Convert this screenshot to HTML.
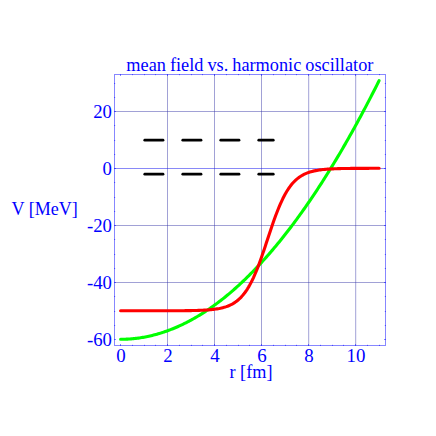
<!DOCTYPE html>
<html><head><meta charset="utf-8"><title>mean field vs. harmonic oscillator</title>
<style>html,body{margin:0;padding:0;background:#fff;}svg{display:block;}text{font-family:"Liberation Serif",serif;}</style></head><body>
<svg width="436" height="436" viewBox="0 0 436 436">
<rect x="0" y="0" width="436" height="436" fill="#ffffff"/>
<g stroke="#3838a8" stroke-opacity="0.47" stroke-width="1" fill="none">
<line x1="167.50" y1="74.5" x2="167.50" y2="345.5"/>
<line x1="214.50" y1="74.5" x2="214.50" y2="345.5"/>
<line x1="261.50" y1="74.5" x2="261.50" y2="345.5"/>
<line x1="308.70" y1="74.5" x2="308.70" y2="345.5"/>
<line x1="355.70" y1="74.5" x2="355.70" y2="345.5"/>
<line x1="114.5" y1="111.50" x2="385.5" y2="111.50"/>
<line x1="114.5" y1="225.50" x2="385.5" y2="225.50"/>
<line x1="114.5" y1="282.50" x2="385.5" y2="282.50"/>
</g>
<line x1="114.5" y1="168.5" x2="385.5" y2="168.5" stroke="#1414f0" stroke-opacity="0.5" stroke-width="1"/>
<rect x="114.5" y="74.5" width="271.0" height="271.0" fill="none" stroke="#0000ff" stroke-opacity="0.47" stroke-width="1"/>
<g stroke="#0000ff" stroke-opacity="0.47" stroke-width="1">
<line x1="120.5" y1="74.0" x2="120.5" y2="76.0"/>
<line x1="120.5" y1="346.0" x2="120.5" y2="344.0"/>
<line x1="132.5" y1="74.0" x2="132.5" y2="75.2"/>
<line x1="132.5" y1="346.0" x2="132.5" y2="344.8"/>
<line x1="144.5" y1="74.0" x2="144.5" y2="75.2"/>
<line x1="144.5" y1="346.0" x2="144.5" y2="344.8"/>
<line x1="155.5" y1="74.0" x2="155.5" y2="75.2"/>
<line x1="155.5" y1="346.0" x2="155.5" y2="344.8"/>
<line x1="167.5" y1="74.0" x2="167.5" y2="76.0"/>
<line x1="167.5" y1="346.0" x2="167.5" y2="344.0"/>
<line x1="179.5" y1="74.0" x2="179.5" y2="75.2"/>
<line x1="179.5" y1="346.0" x2="179.5" y2="344.8"/>
<line x1="191.5" y1="74.0" x2="191.5" y2="75.2"/>
<line x1="191.5" y1="346.0" x2="191.5" y2="344.8"/>
<line x1="202.5" y1="74.0" x2="202.5" y2="75.2"/>
<line x1="202.5" y1="346.0" x2="202.5" y2="344.8"/>
<line x1="214.5" y1="74.0" x2="214.5" y2="76.0"/>
<line x1="214.5" y1="346.0" x2="214.5" y2="344.0"/>
<line x1="226.5" y1="74.0" x2="226.5" y2="75.2"/>
<line x1="226.5" y1="346.0" x2="226.5" y2="344.8"/>
<line x1="238.5" y1="74.0" x2="238.5" y2="75.2"/>
<line x1="238.5" y1="346.0" x2="238.5" y2="344.8"/>
<line x1="249.5" y1="74.0" x2="249.5" y2="75.2"/>
<line x1="249.5" y1="346.0" x2="249.5" y2="344.8"/>
<line x1="261.5" y1="74.0" x2="261.5" y2="76.0"/>
<line x1="261.5" y1="346.0" x2="261.5" y2="344.0"/>
<line x1="273.5" y1="74.0" x2="273.5" y2="75.2"/>
<line x1="273.5" y1="346.0" x2="273.5" y2="344.8"/>
<line x1="285.5" y1="74.0" x2="285.5" y2="75.2"/>
<line x1="285.5" y1="346.0" x2="285.5" y2="344.8"/>
<line x1="296.5" y1="74.0" x2="296.5" y2="75.2"/>
<line x1="296.5" y1="346.0" x2="296.5" y2="344.8"/>
<line x1="308.5" y1="74.0" x2="308.5" y2="76.0"/>
<line x1="308.5" y1="346.0" x2="308.5" y2="344.0"/>
<line x1="320.5" y1="74.0" x2="320.5" y2="75.2"/>
<line x1="320.5" y1="346.0" x2="320.5" y2="344.8"/>
<line x1="332.5" y1="74.0" x2="332.5" y2="75.2"/>
<line x1="332.5" y1="346.0" x2="332.5" y2="344.8"/>
<line x1="343.5" y1="74.0" x2="343.5" y2="75.2"/>
<line x1="343.5" y1="346.0" x2="343.5" y2="344.8"/>
<line x1="355.5" y1="74.0" x2="355.5" y2="76.0"/>
<line x1="355.5" y1="346.0" x2="355.5" y2="344.0"/>
<line x1="367.5" y1="74.0" x2="367.5" y2="75.2"/>
<line x1="367.5" y1="346.0" x2="367.5" y2="344.8"/>
<line x1="379.5" y1="74.0" x2="379.5" y2="75.2"/>
<line x1="379.5" y1="346.0" x2="379.5" y2="344.8"/>
<line x1="114.0" y1="339.5" x2="116.0" y2="339.5"/>
<line x1="386.0" y1="339.5" x2="384.0" y2="339.5"/>
<line x1="114.0" y1="325.5" x2="115.2" y2="325.5"/>
<line x1="386.0" y1="325.5" x2="384.8" y2="325.5"/>
<line x1="114.0" y1="311.5" x2="115.2" y2="311.5"/>
<line x1="386.0" y1="311.5" x2="384.8" y2="311.5"/>
<line x1="114.0" y1="296.5" x2="115.2" y2="296.5"/>
<line x1="386.0" y1="296.5" x2="384.8" y2="296.5"/>
<line x1="114.0" y1="282.5" x2="116.0" y2="282.5"/>
<line x1="386.0" y1="282.5" x2="384.0" y2="282.5"/>
<line x1="114.0" y1="268.5" x2="115.2" y2="268.5"/>
<line x1="386.0" y1="268.5" x2="384.8" y2="268.5"/>
<line x1="114.0" y1="254.5" x2="115.2" y2="254.5"/>
<line x1="386.0" y1="254.5" x2="384.8" y2="254.5"/>
<line x1="114.0" y1="239.5" x2="115.2" y2="239.5"/>
<line x1="386.0" y1="239.5" x2="384.8" y2="239.5"/>
<line x1="114.0" y1="225.5" x2="116.0" y2="225.5"/>
<line x1="386.0" y1="225.5" x2="384.0" y2="225.5"/>
<line x1="114.0" y1="211.5" x2="115.2" y2="211.5"/>
<line x1="386.0" y1="211.5" x2="384.8" y2="211.5"/>
<line x1="114.0" y1="197.5" x2="115.2" y2="197.5"/>
<line x1="386.0" y1="197.5" x2="384.8" y2="197.5"/>
<line x1="114.0" y1="182.5" x2="115.2" y2="182.5"/>
<line x1="386.0" y1="182.5" x2="384.8" y2="182.5"/>
<line x1="114.0" y1="168.5" x2="116.0" y2="168.5"/>
<line x1="386.0" y1="168.5" x2="384.0" y2="168.5"/>
<line x1="114.0" y1="154.5" x2="115.2" y2="154.5"/>
<line x1="386.0" y1="154.5" x2="384.8" y2="154.5"/>
<line x1="114.0" y1="140.5" x2="115.2" y2="140.5"/>
<line x1="386.0" y1="140.5" x2="384.8" y2="140.5"/>
<line x1="114.0" y1="125.5" x2="115.2" y2="125.5"/>
<line x1="386.0" y1="125.5" x2="384.8" y2="125.5"/>
<line x1="114.0" y1="111.5" x2="116.0" y2="111.5"/>
<line x1="386.0" y1="111.5" x2="384.0" y2="111.5"/>
<line x1="114.0" y1="97.5" x2="115.2" y2="97.5"/>
<line x1="386.0" y1="97.5" x2="384.8" y2="97.5"/>
<line x1="114.0" y1="83.5" x2="115.2" y2="83.5"/>
<line x1="386.0" y1="83.5" x2="384.8" y2="83.5"/>
</g>
<g stroke="#000000" stroke-width="2.75" stroke-linecap="round" fill="none">
<line x1="144.75" y1="140.20" x2="163.00" y2="140.20"/>
<line x1="182.75" y1="140.20" x2="201.00" y2="140.20"/>
<line x1="220.75" y1="140.20" x2="239.00" y2="140.20"/>
<line x1="258.75" y1="140.20" x2="273.25" y2="140.20"/>
<line x1="144.75" y1="174.20" x2="163.00" y2="174.20"/>
<line x1="182.75" y1="174.20" x2="201.00" y2="174.20"/>
<line x1="220.75" y1="174.20" x2="239.00" y2="174.20"/>
<line x1="258.75" y1="174.20" x2="273.25" y2="174.20"/>
</g>
<polyline points="120.60,339.30 121.77,339.29 122.95,339.28 124.12,339.25 125.30,339.21 126.47,339.17 127.65,339.11 128.82,339.04 130.00,338.96 131.17,338.87 132.35,338.77 133.53,338.65 134.70,338.53 135.88,338.40 137.05,338.25 138.22,338.10 139.40,337.93 140.57,337.76 141.75,337.57 142.92,337.37 144.10,337.16 145.28,336.94 146.45,336.71 147.62,336.47 148.80,336.22 149.97,335.96 151.15,335.69 152.32,335.40 153.50,335.11 154.67,334.81 155.85,334.49 157.03,334.16 158.20,333.83 159.38,333.48 160.55,333.12 161.72,332.75 162.90,332.37 164.07,331.98 165.25,331.58 166.42,331.17 167.60,330.75 168.78,330.32 169.95,329.87 171.12,329.42 172.30,328.95 173.47,328.48 174.65,327.99 175.82,327.50 177.00,326.99 178.17,326.47 179.35,325.94 180.53,325.40 181.70,324.85 182.88,324.29 184.05,323.72 185.22,323.14 186.40,322.54 187.58,321.94 188.75,321.32 189.92,320.70 191.10,320.06 192.28,319.42 193.45,318.76 194.62,318.09 195.80,317.41 196.97,316.72 198.15,316.02 199.33,315.31 200.50,314.59 201.67,313.86 202.85,313.12 204.03,312.36 205.20,311.60 206.37,310.82 207.55,310.04 208.72,309.24 209.90,308.43 211.08,307.62 212.25,306.79 213.42,305.95 214.60,305.10 215.78,304.24 216.95,303.37 218.12,302.49 219.30,301.59 220.47,300.69 221.65,299.78 222.82,298.85 224.00,297.92 225.17,296.97 226.35,296.02 227.53,295.05 228.70,294.07 229.88,293.08 231.05,292.08 232.22,291.07 233.40,290.05 234.57,289.02 235.75,287.98 236.92,286.93 238.10,285.86 239.28,284.79 240.45,283.70 241.62,282.61 242.80,281.50 243.97,280.39 245.15,279.26 246.32,278.12 247.50,276.97 248.68,275.81 249.85,274.64 251.02,273.46 252.20,272.27 253.38,271.07 254.55,269.85 255.72,268.63 256.90,267.39 258.08,266.15 259.25,264.89 260.43,263.63 261.60,262.35 262.77,261.06 263.95,259.76 265.12,258.45 266.30,257.13 267.48,255.80 268.65,254.46 269.83,253.11 271.00,251.75 272.18,250.37 273.35,248.99 274.52,247.60 275.70,246.19 276.88,244.77 278.05,243.35 279.23,241.91 280.40,240.46 281.58,239.00 282.75,237.53 283.93,236.05 285.10,234.56 286.27,233.06 287.45,231.55 288.62,230.03 289.80,228.49 290.98,226.95 292.15,225.39 293.33,223.83 294.50,222.25 295.68,220.66 296.85,219.07 298.02,217.46 299.20,215.84 300.38,214.21 301.55,212.57 302.73,210.92 303.90,209.25 305.08,207.58 306.25,205.90 307.43,204.20 308.60,202.50 309.78,200.78 310.95,199.06 312.12,197.32 313.30,195.57 314.48,193.82 315.65,192.05 316.83,190.27 318.00,188.48 319.18,186.68 320.35,184.87 321.53,183.04 322.70,181.21 323.88,179.37 325.05,177.51 326.23,175.65 327.40,173.77 328.58,171.89 329.75,169.99 330.93,168.08 332.10,166.16 333.28,164.23 334.45,162.29 335.62,160.34 336.80,158.38 337.98,156.41 339.15,154.43 340.33,152.43 341.50,150.43 342.68,148.42 343.85,146.39 345.03,144.35 346.20,142.31 347.38,140.25 348.55,138.18 349.73,136.10 350.90,134.01 352.08,131.91 353.25,129.80 354.43,127.68 355.60,125.55 356.78,123.41 357.95,121.25 359.12,119.09 360.30,116.91 361.48,114.73 362.65,112.53 363.83,110.33 365.00,108.11 366.18,105.88 367.35,103.64 368.53,101.39 369.70,99.13 370.88,96.86 372.05,94.58 373.23,92.29 374.40,89.98 375.58,87.67 376.75,85.34 377.93,83.01 379.10,80.66" fill="none" stroke="#00ff00" stroke-width="3.1" stroke-linecap="round" stroke-linejoin="round"/>
<polyline points="120.60,310.80 121.77,310.80 122.95,310.80 124.12,310.80 125.30,310.80 126.47,310.80 127.65,310.80 128.82,310.80 130.00,310.80 131.17,310.80 132.35,310.80 133.53,310.80 134.70,310.80 135.88,310.80 137.05,310.80 138.22,310.80 139.40,310.80 140.57,310.80 141.75,310.80 142.92,310.80 144.10,310.80 145.28,310.80 146.45,310.80 147.62,310.79 148.80,310.79 149.97,310.79 151.15,310.79 152.32,310.79 153.50,310.79 154.67,310.79 155.85,310.79 157.03,310.79 158.20,310.79 159.38,310.79 160.55,310.78 161.72,310.78 162.90,310.78 164.07,310.78 165.25,310.78 166.42,310.77 167.60,310.77 168.78,310.77 169.95,310.76 171.12,310.76 172.30,310.76 173.47,310.75 174.65,310.75 175.82,310.74 177.00,310.74 178.17,310.73 179.35,310.72 180.53,310.71 181.70,310.70 182.88,310.69 184.05,310.68 185.22,310.67 186.40,310.66 187.58,310.64 188.75,310.62 189.92,310.61 191.10,310.59 192.28,310.56 193.45,310.54 194.62,310.51 195.80,310.48 196.97,310.45 198.15,310.41 199.33,310.37 200.50,310.32 201.67,310.27 202.85,310.22 204.03,310.16 205.20,310.09 206.37,310.02 207.55,309.94 208.72,309.85 209.90,309.75 211.08,309.64 212.25,309.52 213.42,309.38 214.60,309.23 215.78,309.07 216.95,308.89 218.12,308.69 219.30,308.48 220.47,308.24 221.65,307.97 222.82,307.68 224.00,307.36 225.17,307.01 226.35,306.62 227.53,306.20 228.70,305.73 229.88,305.22 231.05,304.66 232.22,304.04 233.40,303.37 234.57,302.63 235.75,301.83 236.92,300.95 238.10,299.99 239.28,298.95 240.45,297.81 241.62,296.59 242.80,295.25 243.97,293.81 245.15,292.26 246.32,290.59 247.50,288.79 248.68,286.86 249.85,284.80 251.02,282.61 252.20,280.28 253.38,277.81 254.55,275.21 255.72,272.48 256.90,269.61 258.08,266.62 259.25,263.52 260.43,260.31 261.60,257.00 262.77,253.61 263.95,250.16 265.12,246.65 266.30,243.11 267.48,239.55 268.65,235.99 269.83,232.45 271.00,228.94 272.18,225.49 273.35,222.10 274.52,218.79 275.70,215.58 276.88,212.48 278.05,209.49 279.23,206.62 280.40,203.89 281.58,201.29 282.75,198.82 283.93,196.49 285.10,194.30 286.27,192.24 287.45,190.31 288.62,188.51 289.80,186.84 290.98,185.29 292.15,183.85 293.33,182.51 294.50,181.29 295.68,180.15 296.85,179.11 298.02,178.15 299.20,177.27 300.38,176.47 301.55,175.73 302.73,175.06 303.90,174.44 305.08,173.88 306.25,173.37 307.43,172.90 308.60,172.48 309.78,172.09 310.95,171.74 312.12,171.42 313.30,171.13 314.48,170.86 315.65,170.62 316.83,170.41 318.00,170.21 319.18,170.03 320.35,169.87 321.53,169.72 322.70,169.58 323.88,169.46 325.05,169.35 326.23,169.25 327.40,169.16 328.58,169.08 329.75,169.01 330.93,168.94 332.10,168.88 333.28,168.83 334.45,168.78 335.62,168.73 336.80,168.69 337.98,168.65 339.15,168.62 340.33,168.59 341.50,168.56 342.68,168.54 343.85,168.51 345.03,168.49 346.20,168.48 347.38,168.46 348.55,168.44 349.73,168.43 350.90,168.42 352.08,168.41 353.25,168.40 354.43,168.39 355.60,168.38 356.78,168.37 357.95,168.36 359.12,168.36 360.30,168.35 361.48,168.35 362.65,168.34 363.83,168.34 365.00,168.34 366.18,168.33 367.35,168.33 368.53,168.33 369.70,168.32 370.88,168.32 372.05,168.32 373.23,168.32 374.40,168.32 375.58,168.31 376.75,168.31 377.93,168.31 379.10,168.31" fill="none" stroke="#ff0000" stroke-width="3.1" stroke-linecap="round" stroke-linejoin="round"/>
<g font-family="Liberation Serif, serif" font-size="18" fill="#0000ff">
<text x="126.3" y="71.0" font-size="18.3" word-spacing="-0.55">mean field vs. harmonic oscillator</text>
<text transform="translate(11.5,215) scale(1.004,1)">V [MeV]</text>
<text transform="translate(111.9,118.25) scale(1.04,1)" text-anchor="end">20</text>
<text transform="translate(111.9,175.25) scale(1.04,1)" text-anchor="end">0</text>
<text transform="translate(111.9,232.25) scale(1.04,1)" text-anchor="end">-20</text>
<text transform="translate(111.9,289.25) scale(1.04,1)" text-anchor="end">-40</text>
<text transform="translate(111.9,346.25) scale(1.04,1)" text-anchor="end">-60</text>
<text transform="translate(120.95,361.5) scale(1.05,1)" text-anchor="middle">0</text>
<text transform="translate(167.95,361.5) scale(1.05,1)" text-anchor="middle">2</text>
<text transform="translate(214.95,361.5) scale(1.05,1)" text-anchor="middle">4</text>
<text transform="translate(261.95,361.5) scale(1.05,1)" text-anchor="middle">6</text>
<text transform="translate(308.95,361.5) scale(1.05,1)" text-anchor="middle">8</text>
<text transform="translate(355.95,361.5) scale(1.05,1)" text-anchor="middle">10</text>
<text transform="translate(229.5,378) scale(1.012,1)">r [fm]</text>
</g>
</svg></body></html>
